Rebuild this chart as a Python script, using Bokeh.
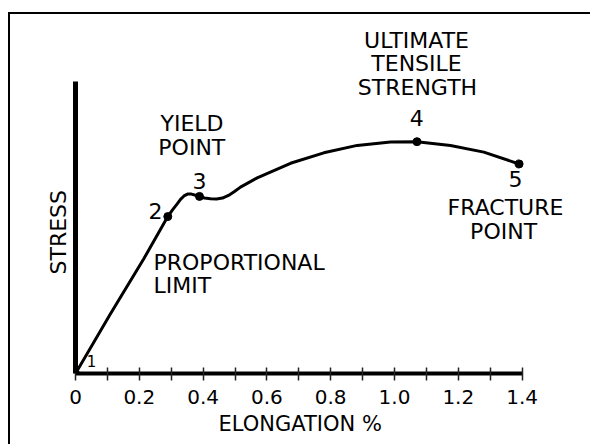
from bokeh.plotting import figure
from bokeh.models import (Range1d, FixedTicker, CustomJSTickFormatter, Title)
from bokeh.core.properties import value
from bokeh.embed import file_html
from bokeh.resources import INLINE

# ---- data (stress normalised so that UTS = 100) ----
elongation = [0.0, 0.1097, 0.2141, 0.2893, 0.3041, 0.3188, 0.3292, 0.3401, 0.3511,
              0.3636, 0.3762, 0.3887, 0.4044, 0.4232, 0.4420, 0.4608, 0.4796, 0.4984,
              0.5172, 0.5696, 0.6740, 0.7784, 0.8831, 0.9875, 1.0705, 1.1755, 1.2800,
              1.3906]
stress = [0.0, 25.8, 49.5, 67.7, 70.6, 73.2, 75.1, 76.6, 77.4,
          77.4, 76.9, 76.4, 75.7, 75.4, 75.3, 75.7, 76.8, 78.5,
          80.4, 84.4, 90.7, 95.2, 98.4, 99.9, 100.0, 98.4, 95.5,
          90.4]

key_elong = [0.0, 0.2893, 0.3887, 1.0705, 1.3906]
key_stress = [0.0, 67.7, 76.4, 100.0, 90.4]
key_names = ["1", "2", "3", "4", "5"]

x_ticks = [0.0, 0.2, 0.4, 0.6, 0.8, 1.0, 1.2, 1.4]
x_tick_labels = ["0", "0.2", "0.4", "0.6", "0.8", "1.0", "1.2", "1.4"]
x_minor_ticks = [0.1, 0.3, 0.5, 0.7, 0.9, 1.1, 1.3]

annot_text = ["YIELD", "POINT", "ULTIMATE", "TENSILE", "STRENGTH", "FRACTURE", "POINT"]
annot_x = [0.3652, 0.3646, 1.069, 1.069, 1.072, 1.348, 1.342]
annot_y = [107.7, 97.6, 143.7, 133.6, 123.5, 71.4, 61.4]

prop_text = ["PROPORTIONAL", "LIMIT"]
prop_x = [0.2445, 0.2445]
prop_y = [48.0, 38.0]

num_text = key_names[1:]
num_x = [0.2508, 0.3887, 1.07, 1.379]
num_y = [70.3, 83.0, 110.2, 83.7]

FONT = "DejaVu Sans"

p = figure(width=582, height=432, output_backend="svg", toolbar_location=None,
           x_range=Range1d(0, 517 / 319), y_range=Range1d(0, 359 / 2.318),
           min_border_left=65, min_border_right=0, min_border_top=0, min_border_bottom=73)
p.margin = (12, 0, 0, 8)
p.styles = {"border-left": "2px solid black", "border-top": "2px solid black"}
p.outline_line_color = None
p.background_fill_color = "white"
p.border_fill_color = "white"
p.grid.visible = False

# x axis
xa = p.xaxis[0]
xa.bounds = (0, 1.4)
xa.ticker = FixedTicker(ticks=x_ticks, minor_ticks=x_minor_ticks)
xa.formatter = CustomJSTickFormatter(args=dict(tick_values=x_ticks, tick_names=x_tick_labels), code="""
const i = tick_values.findIndex(t => Math.abs(t - tick) < 1e-6);
return i >= 0 ? tick_names[i] : "";
""")
xa.axis_line_width = 4
xa.axis_line_color = "black"
xa.major_tick_in = 6
xa.major_tick_out = 7
xa.minor_tick_in = 6
xa.minor_tick_out = 7
xa.major_tick_line_width = 1.5
xa.minor_tick_line_width = 1.5
xa.major_tick_line_color = "#222222"
xa.minor_tick_line_color = "#222222"
xa.major_label_text_font = FONT
xa.major_label_text_font_size = "20px"
xa.major_label_text_color = "black"
xa.major_label_standoff = 9

# y axis
ya = p.yaxis[0]
ya.bounds = (0, 126)
ya.ticker = FixedTicker(ticks=[])
ya.axis_line_width = 5
ya.axis_line_color = "black"
ya.major_tick_line_color = None
ya.minor_tick_line_color = None

# axis titles, placed where the reference has them
p.add_layout(Title(text="ELONGATION %", align="left", offset=143, standoff=6,
                   text_font=FONT, text_font_size="21px", text_font_style="normal",
                   text_color="black"), "below")
p.add_layout(Title(text="STRESS", align="left", offset=99, standoff=9,
                   text_font=FONT, text_font_size="22px", text_font_style="normal",
                   text_color="black"), "left")

# curve
p.line(elongation, stress, line_width=3, line_color="black", line_join="round")
p.scatter(key_elong, key_stress, size=8, color="black")

# labels
p.text(x=annot_x, y=annot_y, text=annot_text, text_font=value(FONT),
       text_font_size=value("22px"), text_align="center", text_baseline="middle",
       text_color="black")
p.text(x=prop_x, y=prop_y, text=prop_text, text_font=value(FONT),
       text_font_size=value("22px"), text_align="left", text_baseline="middle",
       text_color="black")
p.text(x=num_x, y=num_y, text=num_text, text_font=value(FONT),
       text_font_size=value("22px"), text_align="center", text_baseline="middle",
       text_color="black")
p.text(x=[0.05], y=[5.2], text=[key_names[0]], text_font=value(FONT),
       text_font_size=value("15px"), text_align="center", text_baseline="middle",
       text_color="black")

open("out.html", "w").write(file_html(p, INLINE))
